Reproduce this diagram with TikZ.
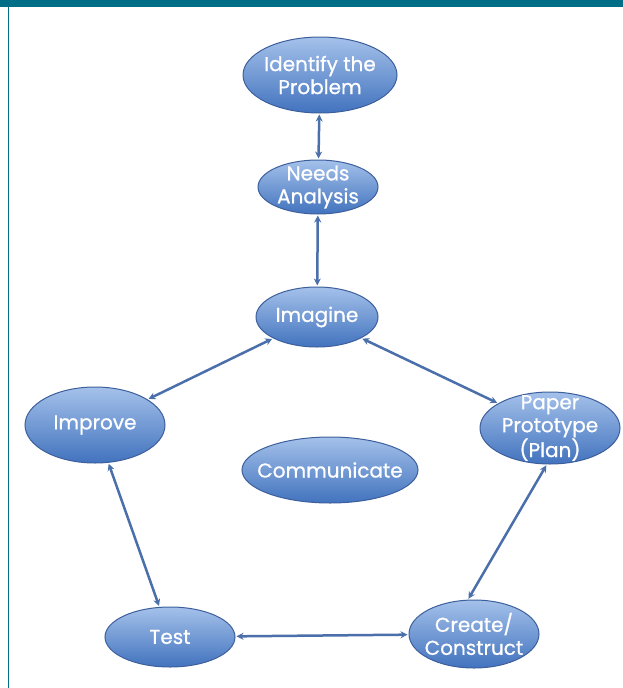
\documentclass[tikz,border=0pt]{standalone}
\usepackage{fontspec}
\setmainfont{Poppins}[BoldFont=Poppins, BoldFeatures={FakeBold=0.8}]
\usetikzlibrary{shapes.geometric,arrows.meta}
\definecolor{teal1}{HTML}{006E86}
\definecolor{ellT}{HTML}{A4C1EA}
\definecolor{ellB}{HTML}{4273BE}
\definecolor{ellD}{HTML}{3D5F9C}
\definecolor{arr}{HTML}{4A6FAA}
\tikzset{
  stage/.style={ellipse, draw=ellD, line width=1pt, top color=ellT, bottom color=ellB, inner sep=0pt},
  txt/.style={inner sep=0pt, align=center, text=white, font=\bfseries\fontsize{20}{23}\selectfont},
  link/.style={arr, line width=2.5pt, {Stealth[length=7pt,width=7pt]}-{Stealth[length=7pt,width=7pt]}, shorten <=1pt, shorten >=1pt}
}
\begin{document}
\begin{tikzpicture}[x=1pt,y=-1pt]
\useasboundingbox (0,0) rectangle (623,688);
\fill[white] (0,0) rectangle (623,688);
\fill[teal1] (0,0) rectangle (623,7);
\fill[teal1] (7.5,7) rectangle (9,688);
\node[stage, minimum width=154pt, minimum height=76pt, label={[txt]center:Identify the\\Problem}] (idp) at (320,75) {};
\node[stage, minimum width=120pt, minimum height=54pt, label={[txt]center:Needs\\Analysis}] (needs) at (318,187) {};
\node[stage, minimum width=122pt, minimum height=60pt, label={[txt]center:Imagine}] (imag) at (317,317) {};
\node[stage, minimum width=140pt, minimum height=76pt, label={[txt]center:Improve}] (impr) at (95,425) {};
\node[stage, minimum width=140pt, minimum height=72pt, label={[txt]center:Paper\\Prototype\\(Plan)}] (paper) at (550,428) {};
\node[stage, minimum width=176pt, minimum height=66pt, label={[txt]center:Communicate}] (comm) at (330,470) {};
\node[stage, minimum width=130pt, minimum height=60pt, label={[txt]center:Test}] (test) at (170,637) {};
\node[stage, minimum width=130pt, minimum height=68pt, label={[txt]center:Create/\\Construct}] (create) at (474,634) {};
\draw[link] (idp) -- (needs);
\draw[link] (needs) -- (imag);
\draw[link] (imag) -- (paper);
\draw[link] (imag) -- (impr);
\draw[link] (impr) -- (test);
\draw[link] (paper.-95) -- (create.100);
\draw[link] (test) -- (create);
\end{tikzpicture}
\end{document}
